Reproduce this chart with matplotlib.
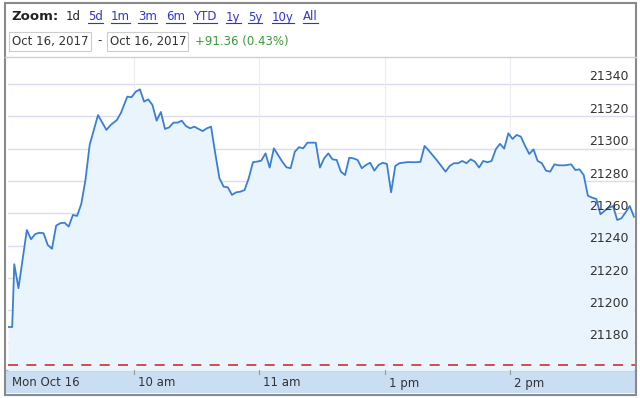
import matplotlib.pyplot as plt
from matplotlib.patches import Rectangle
from matplotlib.lines import Line2D
import matplotlib.transforms as mtransforms

# trading minutes since 9:00 (lunch break removed) and index level
minutes = [0, 2, 3, 5, 9, 11, 13, 15, 17, 19, 21, 23, 25, 27, 29, 31, 33, 35, 37, 39,
           43, 47, 49, 52, 54, 57, 59, 61, 63, 65, 67, 69, 71, 73, 75, 77, 79, 81, 83, 85,
           87, 89, 91, 93, 95, 97, 99, 101, 103, 105, 107, 109, 111, 113, 115, 117, 119, 121, 123, 125,
           127, 129, 131, 133, 135, 137, 139, 141, 143, 147, 149, 151, 153, 155, 157, 159, 161, 163, 165, 167,
           169, 171, 173, 175, 177, 179, 181, 183, 185, 187, 191, 194, 197, 199, 201, 205, 209, 211, 213, 215,
           217, 219, 221, 223, 225, 227, 229, 231, 233, 235, 237, 239, 241, 243, 245, 247, 249, 251, 253, 255,
           257, 259, 261, 263, 266, 269, 271, 273, 275, 277, 279, 281, 283, 285, 287, 289, 291, 293, 295, 297,
           299]
level = [21189.7, 21189.7, 21228.5, 21213.7, 21249.7, 21244.0, 21247.2, 21248.0, 21247.7, 21240.4,
         21238.1, 21252.4, 21253.9, 21254.2, 21251.8, 21259.0, 21258.4, 21265.8, 21280.6, 21302.3,
         21320.8, 21311.6, 21314.6, 21317.7, 21322.3, 21332.2, 21331.8, 21335.2, 21336.7, 21329.1,
         21330.5, 21327.0, 21317.3, 21322.7, 21312.2, 21313.2, 21316.1, 21316.1, 21317.3, 21314.0,
         21312.6, 21313.6, 21312.2, 21310.9, 21312.6, 21313.6, 21297.1, 21281.7, 21276.5, 21276.1,
         21271.4, 21273.0, 21273.4, 21274.4, 21281.7, 21291.6, 21292.0, 21292.6, 21297.1, 21288.3,
         21300.2, 21296.1, 21292.0, 21288.5, 21287.9, 21298.1, 21300.9, 21300.2, 21303.7, 21303.7,
         21288.3, 21294.0, 21297.1, 21293.4, 21293.0, 21285.8, 21283.7, 21294.4, 21294.0, 21293.0,
         21287.9, 21289.9, 21291.3, 21286.4, 21289.9, 21291.3, 21290.5, 21273.0, 21289.3, 21291.0,
         21291.7, 21291.6, 21291.8, 21301.7, 21298.8, 21292.6, 21285.8, 21289.3, 21291.0, 21291.0,
         21292.4, 21291.0, 21293.4, 21292.0, 21288.3, 21292.4, 21291.6, 21292.4, 21299.6, 21303.0,
         21300.0, 21309.5, 21306.0, 21308.5, 21307.4, 21301.7, 21296.7, 21299.6, 21292.4, 21291.0,
         21286.4, 21285.8, 21290.3, 21289.7, 21289.7, 21290.3, 21286.8, 21287.2, 21283.7, 21270.9,
         21269.7, 21268.9, 21259.4, 21261.6, 21263.5, 21264.5, 21255.9, 21256.9, 21260.6, 21264.5,
         21257.9]
prev_close = 21166
yticks = [21180, 21200, 21220, 21240, 21260, 21280, 21300, 21320, 21340]
xticks = [0, 60, 120, 180, 240]
xlabels = ['Mon Oct 16', '10 am', '11 am', '1 pm', '2 pm']
zoom_links = ['5d', '1m', '3m', '6m', 'YTD', '1y', '5y', '10y', 'All']
date_from = 'Oct 16, 2017'
date_to = 'Oct 16, 2017'
change_text = '+91.36 (0.43%)'

W, H = 640, 398
fig = plt.figure(figsize=(6.4, 3.98), dpi=100)


def fx(px):
    return px / W


def fy(py):
    return 1 - py / H


# x axis band (behind the axes)
fig.add_artist(Rectangle((fx(5), fy(393)), fx(636) - fx(5), fy(370) - fy(393),
                         transform=fig.transFigure, facecolor='#c9ddf3', edgecolor='none', zorder=-2))
fig.add_artist(Line2D([fx(5), fx(636)], [fy(370), fy(370)], color='#a7bdd6', lw=1,
                      transform=fig.transFigure, zorder=-1))

# plot area
ax = fig.add_axes([fx(8), fy(370), fx(635) - fx(8), fy(57) - fy(370)])
ax.patch.set_alpha(0)
ax.set_xlim(0, 299.5)
ax.set_ylim(21163.1, 21356.7)
for s in ax.spines.values():
    s.set_visible(False)
ax.set_xticks([])
ax.set_yticks([])

for v in yticks:
    ax.axhline(v, color='#dcdcf0', lw=1, zorder=1)
for t in xticks[1:]:
    ax.axvline(t, color='#ececf4', lw=0.8, zorder=1)

ax.fill_between(minutes, level, 21100, color='#eaf4fd', zorder=2, lw=0)
ax.plot(minutes, level, color='#3a7fd5', lw=1.3, zorder=3)
ax.axhline(prev_close, color='#c83232', lw=1.2, dashes=(6, 5), zorder=4)

label_tr = mtransforms.offset_copy(ax.get_yaxis_transform(), fig=fig, x=0, y=7, units='dots')
for v in yticks:
    ax.text(0.99, v, str(v), transform=label_tr, ha='right', va='center',
            fontsize=9, color='#333333', zorder=5)

xa = ax.get_xaxis_transform()
for t, lab in zip(xticks, xlabels):
    if t > 0:
        ax.plot([t, t], [-0.012, 0.0], transform=xa, color='#999999', lw=0.8, clip_on=False)
    off = mtransforms.offset_copy(xa, fig=fig, x=4, y=-13, units='dots')
    ax.text(t, 0, lab, transform=off, ha='left', va='center', fontsize=8.5, color='#333333')

# header
fig.add_artist(Line2D([fx(5), fx(636)], [fy(57), fy(57)], color='#d0d0d0', lw=1,
                      transform=fig.transFigure))
fig.text(fx(11), fy(17), 'Zoom:', fontsize=9.5, fontweight='bold', color='#222222', va='center')
fig.text(fx(66), fy(17), '1d', fontsize=8.5, color='#222222', va='center')
link_x = [88, 111, 138, 166, 193, 226, 248, 272, 303]
link_texts = []
for px, lab in zip(link_x, zoom_links):
    link_texts.append(fig.text(fx(px), fy(17), lab, fontsize=8.5, color='#3333cc', va='center'))

for x0, x1 in [(9, 91), (107, 188)]:
    fig.add_artist(Rectangle((fx(x0), fy(51)), fx(x1) - fx(x0), fy(32) - fy(51),
                             transform=fig.transFigure, facecolor='white', edgecolor='#cccccc', lw=0.8))
fig.text(fx(12), fy(41), date_from, fontsize=8.5, color='#333333', va='center')
fig.text(fx(97), fy(41), '-', fontsize=8.5, color='#333333', va='center')
fig.text(fx(110), fy(41), date_to, fontsize=8.5, color='#333333', va='center')
fig.text(fx(195), fy(41), change_text, fontsize=8.5, color='#3a9a3a', va='center')

# outer frame
fig.add_artist(Rectangle((fx(5), fy(395)), fx(636) - fx(5), fy(3) - fy(395),
                         transform=fig.transFigure, facecolor='none', edgecolor='#8a8a8a', lw=1.5))

# underline links
fig.canvas.draw()
r = fig.canvas.get_renderer()
for t in link_texts:
    bb = t.get_window_extent(r)
    fig.add_artist(Line2D([bb.x0 / W, bb.x1 / W], [(bb.y0 + 1) / H, (bb.y0 + 1) / H],
                          color='#3333cc', lw=0.8, transform=fig.transFigure))

fig.savefig('out.png', dpi=100)
